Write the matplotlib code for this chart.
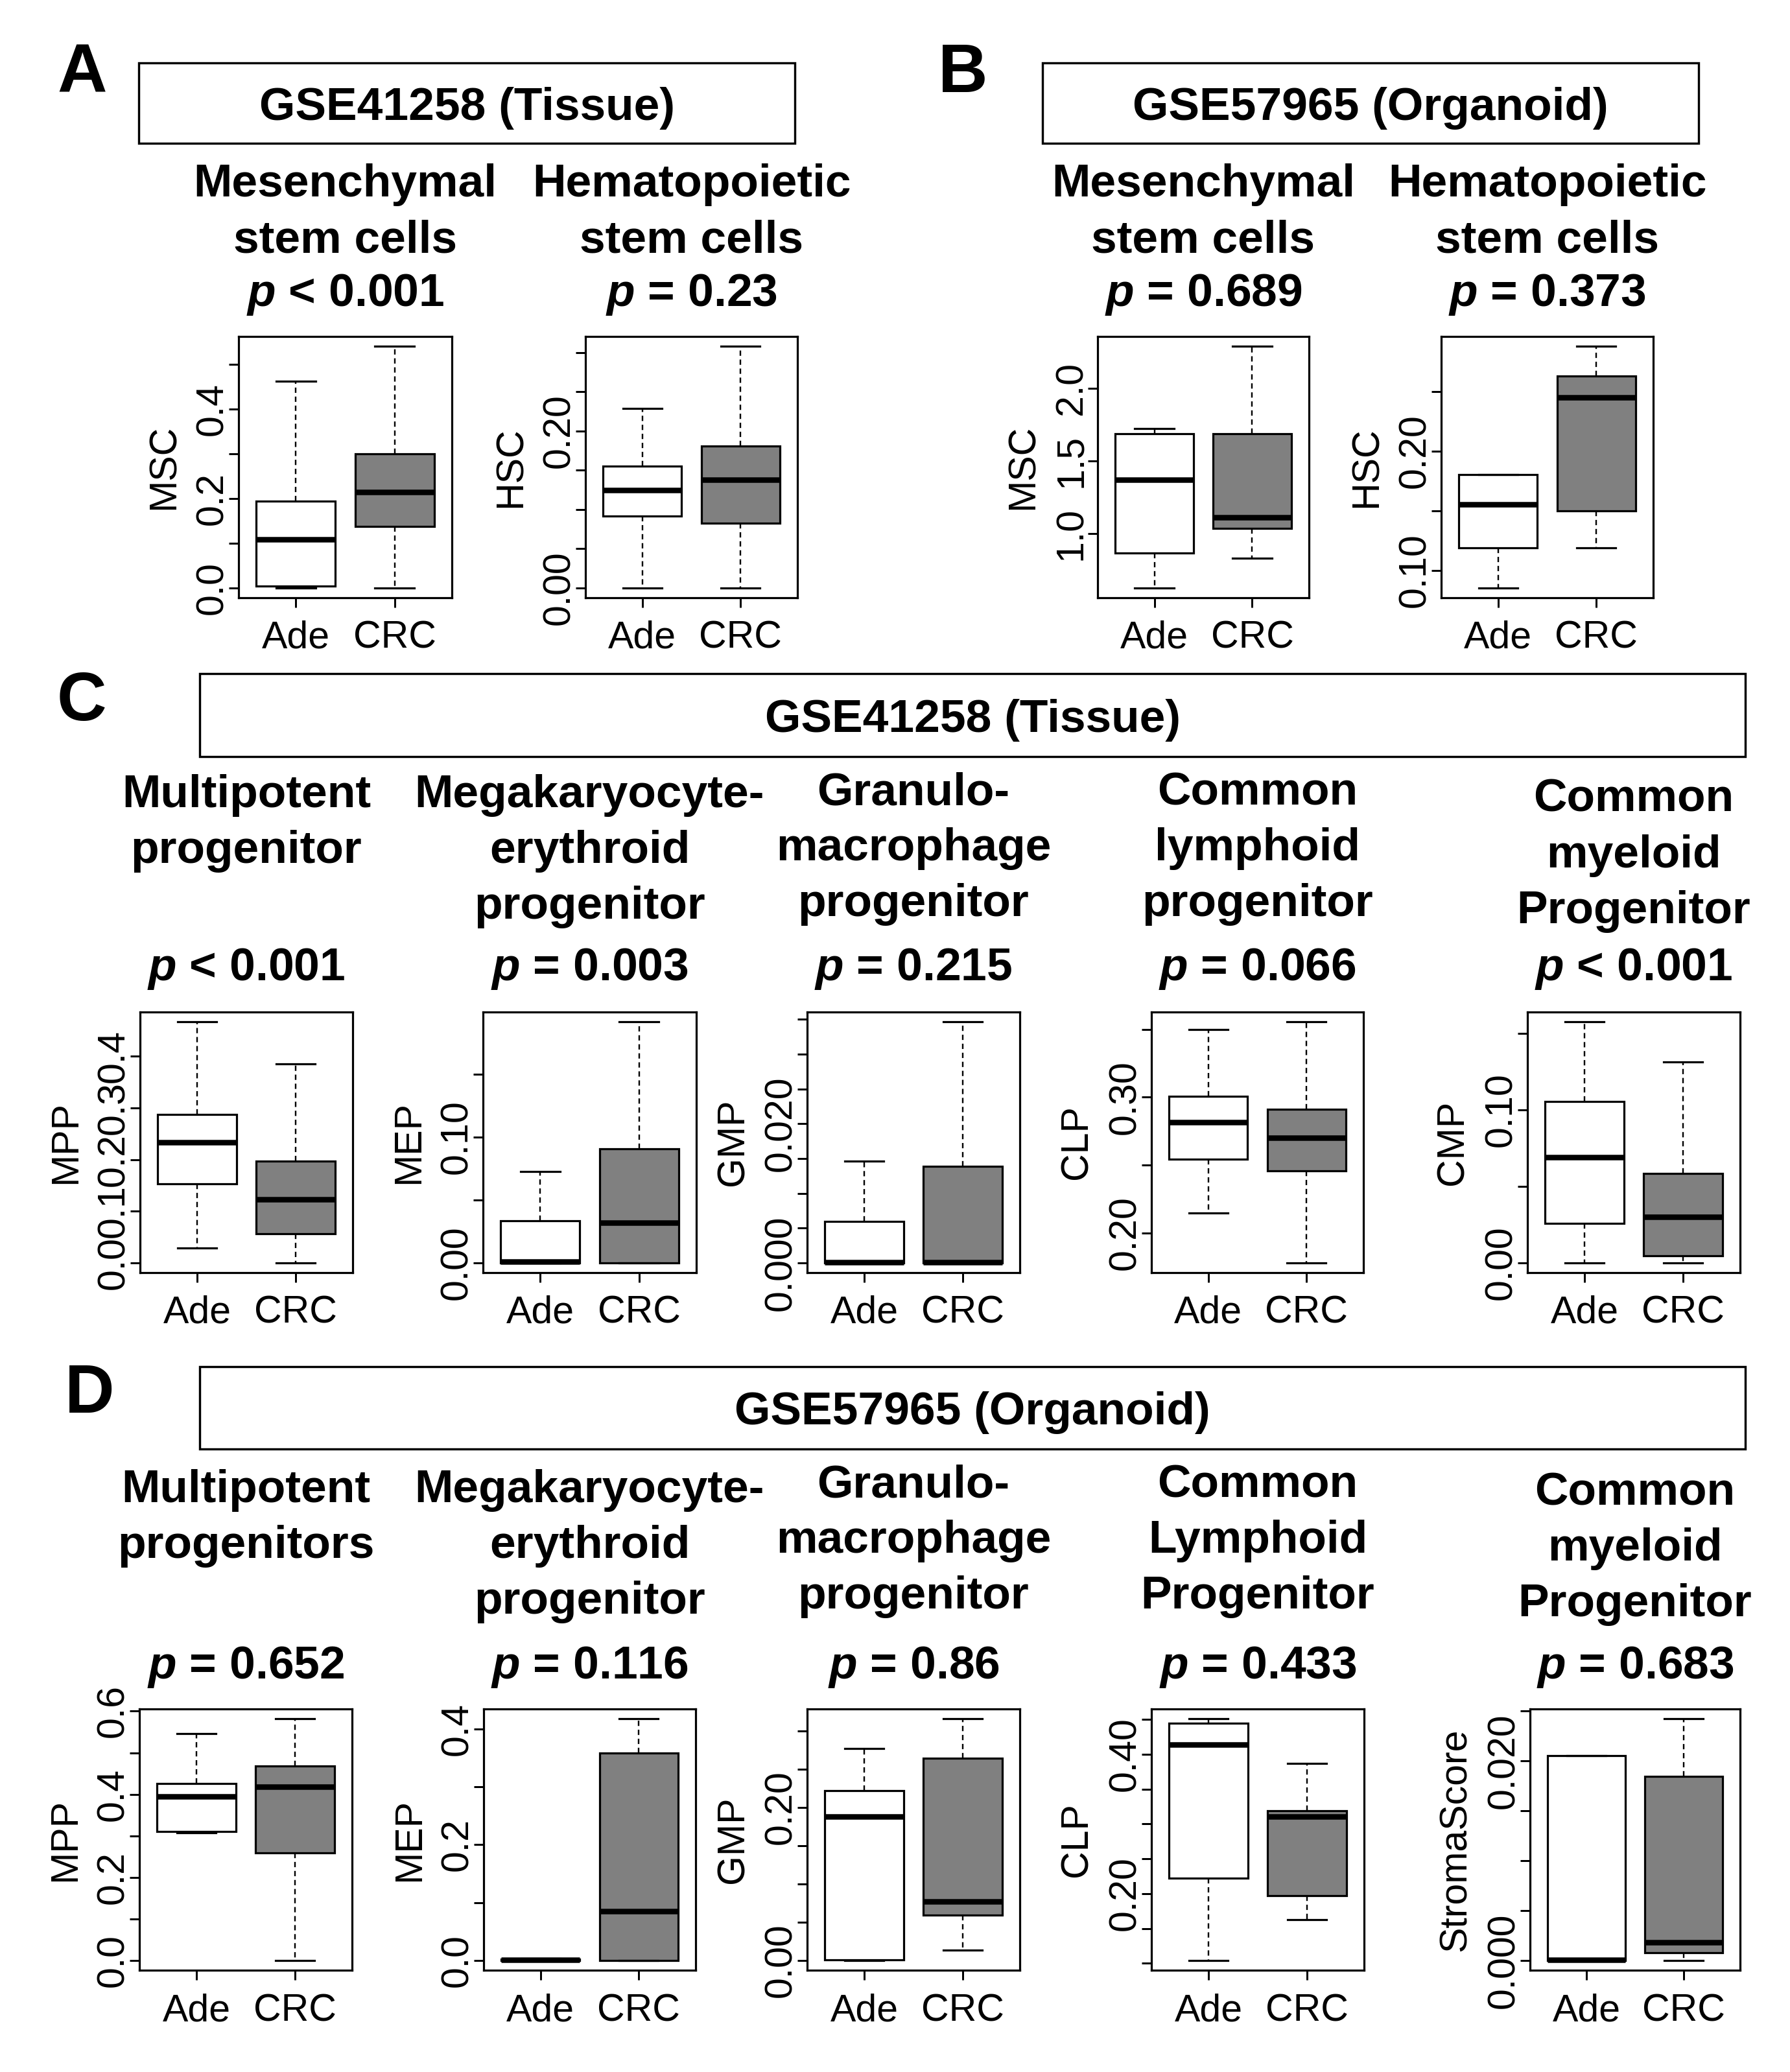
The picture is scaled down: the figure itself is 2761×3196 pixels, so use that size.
import matplotlib
matplotlib.use("Agg")
import matplotlib.pyplot as plt
from matplotlib.patches import Rectangle

W, H = 2761, 3196
plt.rcParams['font.family'] = ['Liberation Sans', 'DejaVu Sans']
plt.rcParams['mathtext.fontset'] = 'custom'
plt.rcParams['mathtext.it'] = 'Liberation Sans:italic:bold'
plt.rcParams['mathtext.rm'] = 'Liberation Sans:bold'
plt.rcParams['mathtext.bf'] = 'Liberation Sans:bold'

groups = ["Ade", "CRC"]
# five-number summaries: [lower whisker, Q1, median, Q3, upper whisker]
# A: GSE41258 (Tissue)
msc_tissue_ade = [0.0, 0.004, 0.108, 0.194, 0.462]
msc_tissue_crc = [0.0, 0.138, 0.214, 0.300, 0.540]
hsc_tissue_ade = [0.0, 0.092, 0.125, 0.155, 0.229]
hsc_tissue_crc = [0.0, 0.083, 0.138, 0.181, 0.308]
# B: GSE57965 (Organoid)
msc_org_ade = [0.623, 0.865, 1.371, 1.689, 1.722]
msc_org_crc = [0.831, 1.037, 1.112, 1.689, 2.292]
hsc_org_ade = [0.085, 0.1185, 0.155, 0.180, 0.180]
hsc_org_crc = [0.1185, 0.150, 0.245, 0.263, 0.288]
# C: GSE41258 (Tissue) progenitors
mpp_tissue_ade = [0.029, 0.153, 0.233, 0.288, 0.467]
mpp_tissue_crc = [0.0, 0.057, 0.123, 0.1975, 0.385]
mep_tissue_ade = [0.0, 0.0, 0.001, 0.0333, 0.0729]
mep_tissue_crc = [0.0, 0.0, 0.0322, 0.0909, 0.1917]
gmp_tissue_ade = [0.0, 0.0, 0.0001, 0.0060, 0.01466]
gmp_tissue_crc = [0.0, 0.0, 0.0001, 0.01388, 0.03468]
clp_tissue_ade = [0.2145, 0.2544, 0.2814, 0.3005, 0.350]
clp_tissue_crc = [0.1778, 0.2456, 0.2702, 0.2911, 0.3556]
cmp_tissue_ade = [0.0, 0.0258, 0.0689, 0.1054, 0.1576]
cmp_tissue_crc = [0.0, 0.0045, 0.030, 0.0586, 0.1315]
# D: GSE57965 (Organoid) progenitors
mpp_org_ade = [0.3076, 0.310, 0.394, 0.426, 0.546]
mpp_org_crc = [0.0, 0.259, 0.418, 0.468, 0.582]
mep_org_ade = [0.0, 0.0, 0.001, 0.002, 0.003]
mep_org_crc = [0.0, 0.0, 0.0847, 0.3576, 0.4175]
gmp_org_ade = [0.0, 0.001, 0.188, 0.222, 0.277]
gmp_org_crc = [0.0135, 0.0594, 0.0775, 0.264, 0.316]
clp_org_ade = [0.1039, 0.2219, 0.4135, 0.4445, 0.451]
clp_org_crc = [0.1626, 0.1968, 0.3103, 0.3184, 0.3865]
cmp_org_ade = [0.0, 0.0, 0.0001, 0.0205, 0.0205]
cmp_org_crc = [0.0, 0.0008, 0.00184, 0.01848, 0.02424]

# y-axis labels, ticks and tick labels
ylabels_AB = ["MSC", "HSC", "MSC", "HSC"]
yticks_AB = [[0.0, 0.1, 0.2, 0.3, 0.4, 0.5],
             [0.0, 0.05, 0.10, 0.15, 0.20, 0.25, 0.30],
             [1.0, 1.5, 2.0],
             [0.10, 0.15, 0.20, 0.25]]
ytlabels_AB = [["0.0", "", "0.2", "", "0.4", ""],
               ["0.00", "", "", "", "0.20", "", ""],
               ["1.0", "1.5", "2.0"],
               ["0.10", "", "0.20", ""]]
ylabels_C = ["MPP", "MEP", "GMP", "CLP", "CMP"]
yticks_C = [[0.0, 0.1, 0.2, 0.3, 0.4],
            [0.0, 0.05, 0.10, 0.15],
            [0.0, 0.005, 0.010, 0.015, 0.020, 0.025, 0.030, 0.035],
            [0.20, 0.25, 0.30, 0.35],
            [0.0, 0.05, 0.10, 0.15]]
ytlabels_C = [["0.0", "0.1", "0.2", "0.3", "0.4"],
              ["0.00", "", "0.10", ""],
              ["0.000", "", "", "", "0.020", "", "", ""],
              ["0.20", "", "0.30", ""],
              ["0.00", "", "0.10", ""]]
ylabels_D = ["MPP", "MEP", "GMP", "CLP", "StromaScore"]
yticks_D = [[0.0, 0.1, 0.2, 0.3, 0.4, 0.5, 0.6],
            [0.0, 0.1, 0.2, 0.3, 0.4],
            [0.0, 0.05, 0.10, 0.15, 0.20, 0.25, 0.30],
            [0.10, 0.15, 0.20, 0.25, 0.30, 0.35, 0.40, 0.45],
            [0.0, 0.005, 0.010, 0.015, 0.020, 0.025]]
ytlabels_D = [["0.0", "", "0.2", "", "0.4", "", "0.6"],
              ["0.0", "", "0.2", "", "0.4"],
              ["0.00", "", "", "", "0.20", "", ""],
              ["", "", "0.20", "", "", "", "0.40", ""],
              ["0.000", "", "", "", "0.020", ""]]

titles_AB = [["Mesenchymal", "stem cells"], ["Hematopoietic", "stem cells"],
             ["Mesenchymal", "stem cells"], ["Hematopoietic", "stem cells"]]
pvals_AB = ["< 0.001", "= 0.23", "= 0.689", "= 0.373"]
titles_C = [["Multipotent", "progenitor"],
            ["Megakaryocyte-", "erythroid", "progenitor"],
            ["Granulo-", "macrophage", "progenitor"],
            ["Common", "lymphoid", "progenitor"],
            ["Common", "myeloid", "Progenitor"]]
pvals_C = ["< 0.001", "= 0.003", "= 0.215", "= 0.066", "< 0.001"]
titles_D = [["Multipotent", "progenitors"],
            ["Megakaryocyte-", "erythroid", "progenitor"],
            ["Granulo-", "macrophage", "progenitor"],
            ["Common", "Lymphoid", "Progenitor"],
            ["Common", "myeloid", "Progenitor"]]
pvals_D = ["= 0.652", "= 0.116", "= 0.86", "= 0.433", "= 0.683"]

data_AB = [(msc_tissue_ade, msc_tissue_crc), (hsc_tissue_ade, hsc_tissue_crc),
           (msc_org_ade, msc_org_crc), (hsc_org_ade, hsc_org_crc)]
data_C = [(mpp_tissue_ade, mpp_tissue_crc), (mep_tissue_ade, mep_tissue_crc),
          (gmp_tissue_ade, gmp_tissue_crc), (clp_tissue_ade, clp_tissue_crc),
          (cmp_tissue_ade, cmp_tissue_crc)]
data_D = [(mpp_org_ade, mpp_org_crc), (mep_org_ade, mep_org_crc),
          (gmp_org_ade, gmp_org_crc), (clp_org_ade, clp_org_crc),
          (cmp_org_ade, cmp_org_crc)]

fill_colors = ["white", "#808080"]

PT = 72.0 / 100.0  # points per pixel at dpi 100
TITLE_FS = 71.4 * PT
TICK_FS = 59 * PT
LETTER_FS = 106 * PT

fig = plt.figure(figsize=(W / 100, H / 100), dpi=100)


def fx(x):
    return x / W


def fy(y):
    return 1 - y / H


def stats_from(arr, label):
    d = dict(zip(["whislo", "q1", "med", "q3", "whishi"], arr))
    d["label"] = label
    return d


def draw_panel(left, right, top, bottom, pair, ylabel, yt, ytl):
    ax = fig.add_axes([fx(left), fy(bottom), (right - left) / W, (bottom - top) / H])
    stats = [stats_from(pair[0], groups[0]), stats_from(pair[1], groups[1])]
    bp = ax.bxp(stats, positions=[1, 2], widths=0.8, capwidths=0.4,
                patch_artist=True, showfliers=False,
                boxprops=dict(linewidth=3 * PT * 1.0, edgecolor="black"),
                whiskerprops=dict(linewidth=2.4 * PT, color="black",
                                  linestyle=(0, (3.4, 2.4))),
                capprops=dict(linewidth=3.2 * PT, color="black"),
                medianprops=dict(linewidth=8.5 * PT, color="black",
                                 solid_capstyle="butt"))
    for patch, c in zip(bp["boxes"], fill_colors):
        patch.set_facecolor(c)
        patch.set_linewidth(3.2 * PT)
    lo = min(pair[0][0], pair[1][0])
    hi = max(pair[0][4], pair[1][4])
    ext = 0.04 * (hi - lo)
    ax.set_ylim(lo - ext, hi + ext)
    ax.set_xlim(0.42, 2.58)
    for s in ax.spines.values():
        s.set_linewidth(3.2 * PT)
    ax.tick_params(axis="both", length=15 * PT, width=3 * PT, labelsize=TICK_FS,
                   direction="out")
    ax.tick_params(axis="y", pad=10 * PT)
    ax.tick_params(axis="x", pad=63 * PT)
    ax.set_yticks(yt, ytl)
    for t in ax.get_yticklabels():
        t.set_rotation(90)
        t.set_rotation_mode("anchor")
        t.set_ha("center")
        t.set_va("baseline")
    ax.set_xticks([1, 2], groups)
    for t in ax.get_xticklabels():
        t.set_va("baseline")
    fig.text(fx(left - 99), fy((top + bottom) / 2), ylabel, rotation=90,
             rotation_mode="anchor", ha="center", va="baseline", fontsize=TICK_FS)
    return ax


def draw_title(xc, first_baseline, lines, ptxt, p_baseline, spacing=86):
    for i, line in enumerate(lines):
        fig.text(fx(xc), fy(first_baseline + i * spacing), line, ha="center",
                 va="baseline", fontsize=TITLE_FS, fontweight="bold")
    fig.text(fx(xc), fy(p_baseline), r"$p$ " + ptxt, ha="center", va="baseline",
             fontsize=TITLE_FS, fontweight="bold")


def draw_header(l, t, r, b, text):
    fig.add_artist(Rectangle((fx(l), fy(b)), (r - l) / W, (b - t) / H,
                             transform=fig.transFigure, fill=False,
                             linewidth=3.4 * PT, edgecolor="black"))
    fig.text(fx((l + r) / 2), fy((t + b) / 2 + 26), text, ha="center",
             va="baseline", fontsize=TITLE_FS, fontweight="bold")


def letter(x, y, s):
    fig.text(fx(x), fy(y), s, ha="center", va="baseline", fontsize=LETTER_FS,
             fontweight="bold")


# ---- Row A / B
rowAB_x = [(368, 697), (903, 1230), (1693, 2019), (2223, 2550)]
for i, (l, r) in enumerate(rowAB_x):
    draw_panel(l, r, 519, 922, data_AB[i], ylabels_AB[i], yticks_AB[i], ytlabels_AB[i])
    draw_title((l + r) / 2, 303, titles_AB[i], pvals_AB[i], 472, spacing=87)
draw_header(214, 97, 1226, 221, "GSE41258 (Tissue)")
draw_header(1608, 97, 2620, 221, "GSE57965 (Organoid)")
letter(127, 142, "A")
letter(1485, 142, "B")

# ---- Row C
rowC_x = [(216, 544), (745, 1074), (1245, 1573), (1776, 2103), (2356, 2684)]
rowC_tb = [1245, 1245, 1241, 1241, 1252]
for i, (l, r) in enumerate(rowC_x):
    draw_panel(l, r, 1561, 1963, data_C[i], ylabels_C[i], yticks_C[i], ytlabels_C[i])
    draw_title((l + r) / 2, rowC_tb[i], titles_C[i], pvals_C[i], 1512)
draw_header(308, 1039, 2692, 1167, "GSE41258 (Tissue)")
letter(126, 1111, "C")

# ---- Row D
rowD_x = [(215, 543), (746, 1073), (1245, 1573), (1776, 2104), (2360, 2684)]
rowD_tb = [2317, 2317, 2309, 2309, 2321]
for i, (l, r) in enumerate(rowD_x):
    draw_panel(l, r, 2636, 3039, data_D[i], ylabels_D[i], yticks_D[i], ytlabels_D[i])
    draw_title((l + r) / 2, rowD_tb[i], titles_D[i], pvals_D[i], 2589)
draw_header(308, 2108, 2692, 2235, "GSE57965 (Organoid)")
letter(138, 2179, "D")

fig.savefig("out.png", dpi=100, facecolor="white")
